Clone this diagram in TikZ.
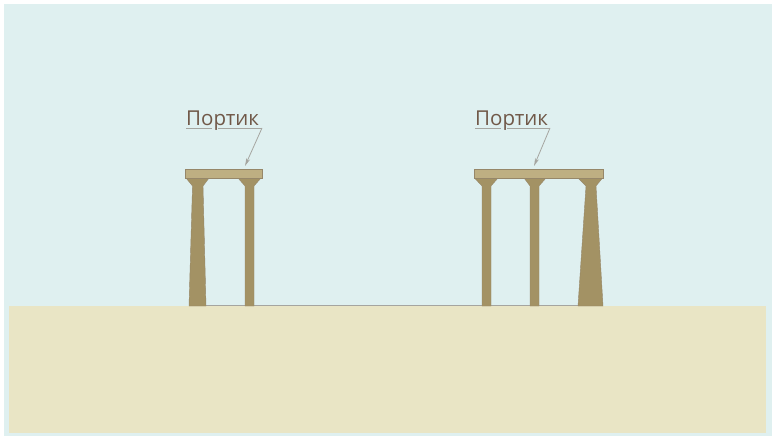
\documentclass[tikz,border=0pt]{standalone}
\usepackage{fontspec}
\setmainfont{Open Sans}
\definecolor{SkyTone}{RGB}{223, 240, 240}
\definecolor{GroundTone}{RGB}{233, 229, 197}
\definecolor{BeamTone}{RGB}{190, 175, 130}
\definecolor{ColumnTone}{RGB}{163, 146, 100}
\definecolor{EdgeTone}{RGB}{150, 135, 105}
\definecolor{LabelTone}{RGB}{112, 88, 72}
\definecolor{LeaderTone}{RGB}{165, 165, 160}
\usetikzlibrary{arrows.meta, positioning}

\begin{document}
\begin{tikzpicture}[x=1pt, y=-1pt]
        \tikzstyle{column} = [draw=EdgeTone, line width=0.4pt, fill=ColumnTone]
        \tikzstyle{beam} = [rectangle, draw=EdgeTone, line width=0.4pt, fill=BeamTone, inner sep=0pt, anchor=north west]
        \tikzstyle{caption} = [text=LabelTone, font=\fontsize{20.5}{22}\selectfont, inner sep=0pt, anchor=base west]
        \tikzstyle{line} = [draw=LeaderTone, line width=0.8pt]
        \tikzstyle{leader} = [draw=LeaderTone, line width=0.8pt, -{Stealth[length=8pt, width=4pt, open]}]

        \useasboundingbox (0,0) rectangle (772,436);
        \fill [white] (0,0) rectangle (772,436);
        \fill [SkyTone] (4,4) rectangle (772,436);
        \draw [LeaderTone, line width=0.8pt] (189,305.6) -- (603,305.6);
        \fill [GroundTone] (9,306) rectangle (766,433);

        % left portico
        \draw [column] (186,178) -- (209,178) -- (203,186) -- (206,306) -- (189,306) -- (192.5,186) -- cycle;
        \draw [column] (238,178) -- (261,178) -- (254,186) -- (254,306) -- (245,306) -- (245,186) -- cycle;
        \node [beam, minimum width=77pt, minimum height=9pt] (beamLeft) at (185,169) {};

        % right portico
        \draw [column] (474.5,178) -- (498,178) -- (491,186) -- (491,306) -- (482,306) -- (482,186) -- cycle;
        \draw [column] (524,178) -- (546,178) -- (539,186) -- (539,306) -- (530,306) -- (530,186) -- cycle;
        \draw [column] (578,178) -- (602.5,178) -- (596,186) -- (603,306) -- (578,306) -- (586,186) -- cycle;
        \node [beam, minimum width=129pt, minimum height=9pt] (beamRight) at (474,169) {};

        % labels
        \node [caption] (labelLeft) at (186,125.5) {Портик};
        \node [caption] (labelRight) at (475,125.5) {Портик};

        \coordinate (tipLeft) at (245,166);
        \coordinate (tipRight) at (534,166);
        \coordinate (endLeft) at (262,128);
        \coordinate (endRight) at (550,128);

        \path [line] (186,128) -- (212,128);
        \path [line] (218,128) -- (endLeft);
        \path [line] (475,128) -- (501,128);
        \path [line] (507,128) -- (endRight);
        \path [leader] (endLeft) -- (tipLeft);
        \path [leader] (endRight) -- (tipRight);
    \end{tikzpicture}
\end{document}
